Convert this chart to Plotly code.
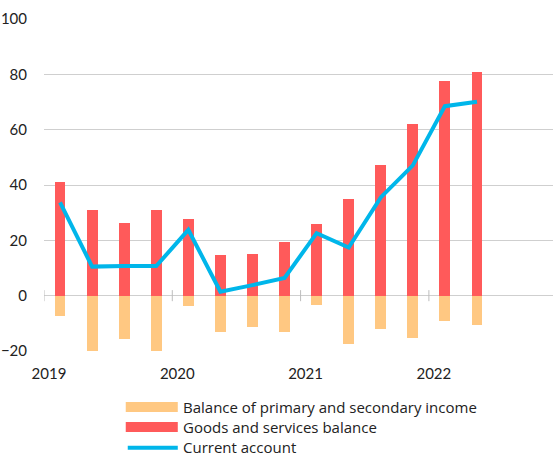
import plotly.graph_objects as go

quarters = ["2019Q1", "2019Q2", "2019Q3", "2019Q4", "2020Q1", "2020Q2", "2020Q3", "2020Q4",
            "2021Q1", "2021Q2", "2021Q3", "2021Q4", "2022Q1", "2022Q2"]
goods_services = [41.1, 30.9, 26.3, 30.8, 27.6, 14.6, 15.0, 19.4, 25.8, 34.8, 47.4, 62.2, 77.7, 80.7]
income_balance = [-7.3, -20.4, -15.6, -20.1, -3.6, -13.3, -11.2, -13.0, -3.2, -17.3, -11.9, -15.2, -9.2, -10.6]
current_account = [33.7, 10.5, 10.7, 10.7, 23.8, 1.4, 3.8, 6.4, 22.6, 17.4, 35.5, 47.1, 68.5, 70.1]
year_labels = ["2019", "2020", "2021", "2022"]
y_ticks = [-20, 0, 20, 40, 60, 80, 100]

names = ["Balance of primary and secondary income", "Goods and services balance", "Current account"]
colors = ["#FFC882", "#FF5A5A", "#00B6EA"]

x = list(range(len(quarters)))
year_pos = [4 * i - 0.5 for i in range(len(year_labels))]

FONT = "Lato"
LEG_FONT = "Open Sans"
W, H = 553, 457
ml, mr, mt, mb = 44.3, 0, 18.5, 106
pw, ph = W - ml - mr, H - mt - mb

fig = go.Figure()
fig.add_trace(go.Bar(x=x, y=income_balance, name=names[0], marker_color=colors[0],
                     marker_line_width=0, width=0.34))
fig.add_trace(go.Bar(x=x, y=goods_services, name=names[1], marker_color=colors[1],
                     marker_line_width=0, width=0.34))
fig.add_trace(go.Scatter(x=x, y=current_account, name=names[2], mode="lines",
                         line=dict(color=colors[2], width=4)))

# year boundary ticks on the zero line
for xp in year_pos:
    fig.add_shape(type="line", xref="x", yref="y", x0=xp, x1=xp, y0=-2, y1=2,
                  line=dict(color="#bdbdbd", width=1), layer="above")

# custom legend
row_px = [407, 427, 447]
sw_x0, sw_x1, txt_x = 126, 178, 181
def px_x(p):
    return (p - ml) / pw
def px_y(p):
    return (H - mb - p) / ph
for i, (nm, col) in enumerate(zip(names, colors)):
    yc = row_px[i]
    if i < 2:
        fig.add_shape(type="rect", xref="paper", yref="paper",
                      x0=px_x(sw_x0), x1=px_x(sw_x1), y0=px_y(yc + 5), y1=px_y(yc - 5),
                      fillcolor=col, line_width=0)
    else:
        fig.add_shape(type="line", xref="paper", yref="paper",
                      x0=px_x(sw_x0 + 2), x1=px_x(sw_x1), y0=px_y(yc + 1), y1=px_y(yc + 1),
                      line=dict(color=col, width=4))
    fig.add_annotation(xref="paper", yref="paper", x=px_x(txt_x), y=px_y(yc),
                       text=nm, showarrow=False, xanchor="left", yanchor="middle",
                       font=dict(family=LEG_FONT, size=15, color="#222222"))

fig.update_layout(
    width=W, height=H,
    margin=dict(l=ml, r=mr, t=mt, b=mb, pad=0),
    plot_bgcolor="white", paper_bgcolor="white",
    barmode="relative", bargap=0,
    showlegend=False,
    font=dict(family=FONT, size=15, color="#222222"),
    xaxis=dict(range=[-0.5, 15.37], tickmode="array", tickvals=year_pos, ticktext=year_labels,
               showgrid=False, zeroline=False, showline=False, ticks="",
               ticklabelshift=5, ticklabelstandoff=12, tickfont=dict(size=15)),
    yaxis=dict(range=[-20, 100], tickmode="array", tickvals=y_ticks,
               showgrid=True, gridcolor="#cfcfcf", gridwidth=1,
               zeroline=True, zerolinecolor="#cfcfcf", zerolinewidth=1,
               showline=False, ticks="", ticklabelstandoff=16, tickfont=dict(size=15)),
)

fig.write_html("out.html")
